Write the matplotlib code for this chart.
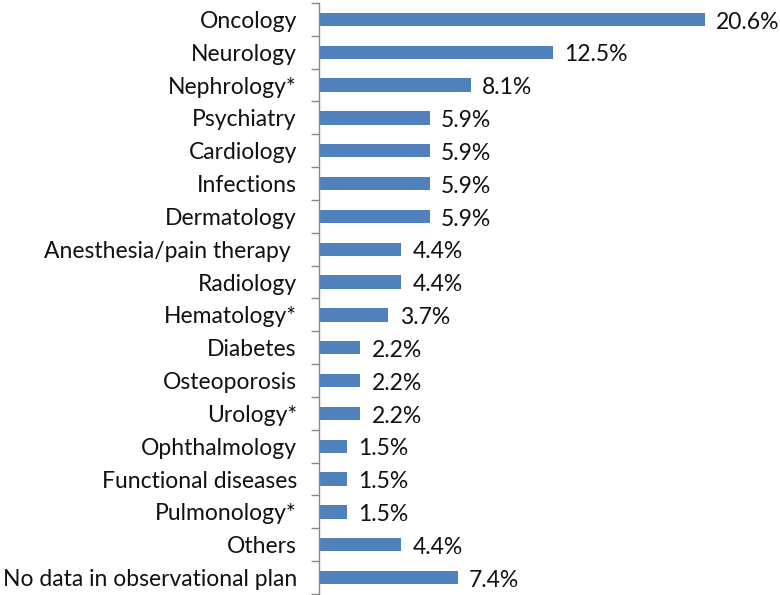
import matplotlib
matplotlib.use('Agg')
import matplotlib.pyplot as plt

categories = ['Oncology', 'Neurology', 'Nephrology*', 'Psychiatry', 'Cardiology',
              'Infections', 'Dermatology', 'Anesthesia/pain therapy ', 'Radiology',
              'Hematology*', 'Diabetes', 'Osteoporosis', 'Urology*', 'Ophthalmology',
              'Functional diseases', 'Pulmonology*', 'Others',
              'No data in observational plan']
values = [20.6, 12.5, 8.1, 5.9, 5.9, 5.9, 5.9, 4.4, 4.4, 3.7, 2.2, 2.2, 2.2,
          1.5, 1.5, 1.5, 4.4, 7.4]

plt.rcParams['font.family'] = ['Lato', 'DejaVu Sans']

W, H = 780, 595
fig = plt.figure(figsize=(W / 100, H / 100), dpi=100)
ax = fig.add_axes([319 / W, 1 / H, (W - 319) / W, (594 - 3) / H])

n = len(categories)
ypos = list(range(n))
ax.barh(ypos, values, height=0.41, color='#4F81BD', zorder=2)
ax.set_ylim(n - 0.5, -0.5)
ax.set_xlim(0, 24.6)

for y, v in zip(ypos, values):
    ax.text(v + 0.6, y + 0.08, f'{v:.1f}%', va='center', ha='left',
            fontsize=16.5, color='#111')

ax.set_yticks(ypos)
ax.set_yticklabels(categories, fontsize=16.5, color='#111')
ax.tick_params(axis='y', length=0, pad=16)
ax.set_yticks([i - 0.5 for i in range(n + 1)], minor=True)
ax.tick_params(axis='y', which='minor', length=6, color='#888', width=1)
ax.set_xticks([])
for s in ['top', 'right', 'bottom']:
    ax.spines[s].set_visible(False)
ax.spines['left'].set_color('#888')
ax.spines['left'].set_linewidth(1)

fig.savefig('out.png', dpi=100, facecolor='white')
